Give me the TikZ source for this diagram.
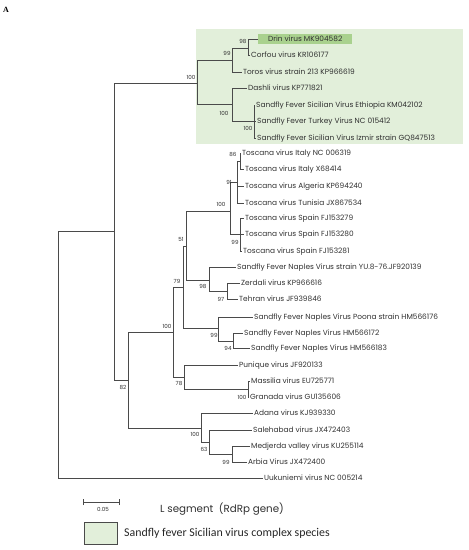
\documentclass[tikz,border=0pt]{standalone}
\usepackage{fontspec}
\setmainfont{Poppins}
\newfontfamily\carlito{Carlito}
\newfontfamily\serifA{Liberation Serif}
\definecolor{edge}{HTML}{4A4A4A}
\definecolor{txt}{HTML}{303030}
\definecolor{sicbg}{HTML}{E2EFDA}
\definecolor{drinbg}{HTML}{A9D18E}
\tikzset{
  leaf/.style={anchor=west, inner xsep=1.5pt, inner ysep=0pt, text height=5.4pt, text depth=1.4pt, font=\fontsize{7.4}{8}\selectfont, text=txt},
  boot/.style={inner sep=0pt, font=\fontsize{5.6}{6}\selectfont, text=txt},
  br/.style={draw=edge, line width=0.75pt},
}
\begin{document}
\begin{tikzpicture}[x=1pt,y=-1pt]
\useasboundingbox (0,0) rectangle (469,550);
% background of Sicilian complex
\node[fill=sicbg, minimum width=267pt, minimum height=115pt, anchor=north west, inner sep=0pt] (sicbox) at (196,29) {};
% panel letter
\node[font=\serifA\bfseries\fontsize{8}{9}\selectfont, text=black] (lettera) at (6,10) {A};
% leaves
\node[leaf, fill=drinbg, inner xsep=7pt, minimum height=10pt, minimum width=94pt] (drin) at (258,39) {Drin virus MK904582};
\node[leaf] (corfou) at (249.5,55) {Corfou virus KR106177};
\node[leaf] (toros) at (241.5,72) {Toros virus strain 213 KP966619};
\node[leaf] (dashli) at (246.5,88) {Dashli virus KP771821};
\node[leaf] (ethiopia) at (254.5,105) {Sandfly Fever Sicilian Virus Ethiopia KM042102};
\node[leaf] (turkey) at (255.5,121) {Sandfly Fever Turkey Virus NC 015412};
\node[leaf] (izmir) at (255.5,138) {Sandfly Fever Sicilian Virus Izmir strain GQ847513};
\node[leaf] (italync) at (240.5,153) {Toscana virus Italy NC 006319};
\node[leaf] (italyx) at (243.5,169) {Toscana virus Italy X68414};
\node[leaf] (algeria) at (243.5,186) {Toscana virus Algeria KP694240};
\node[leaf] (tunisia) at (243.5,203) {Toscana virus Tunisia JX867534};
\node[leaf] (spa) at (243.5,218) {Toscana virus Spain FJ153279};
\node[leaf] (spb) at (243.5,234) {Toscana virus Spain FJ153280};
\node[leaf] (spc) at (241.5,251) {Toscana virus Spain FJ153281};
\node[leaf] (yu) at (235.5,267) {Sandfly Fever Naples Virus strain YU.8-76.JF920139};
\node[leaf] (zerdali) at (239.5,283) {Zerdali virus KP966616};
\node[leaf] (tehran) at (237.5,299) {Tehran virus JF939846};
\node[leaf] (poona) at (252.5,317) {Sandfly Fever Naples Virus Poona strain HM566176};
\node[leaf] (hma) at (242.5,333) {Sandfly Fever Naples Virus HM566172};
\node[leaf] (hmb) at (249.5,348) {Sandfly Fever Naples Virus HM566183};
\node[leaf] (punique) at (237.5,365) {Punique virus JF920133};
\node[leaf] (massilia) at (249.5,381) {Massilia virus EU725771};
\node[leaf] (granada) at (248.5,397) {Granada virus GU135606};
\node[leaf] (adana) at (252.5,413) {Adana virus KJ939330};
\node[leaf] (salehabad) at (251.5,430) {Salehabad virus JX472403};
\node[leaf] (medjerda) at (249.5,446) {Medjerda valley virus KU255114};
\node[leaf] (arbia) at (246.5,462) {Arbia Virus JX472400};
\node[leaf] (uuk) at (262.5,478) {Uukuniemi virus NC 005214};
% internal nodes
\coordinate (root) at (58,354.5);
\coordinate (n1) at (114,231);
\coordinate (sic) at (197,83);
\coordinate (a99) at (232,60);
\coordinate (a98) at (248,48);
\coordinate (dash) at (232,104);
\coordinate (ss) at (254,121);
\coordinate (n82) at (128,380);
\coordinate (n100) at (173,332);
\coordinate (n79) at (183,287);
\coordinate (n51) at (186,246);
\coordinate (tosc) at (230,211);
\coordinate (n91) at (237,182);
\coordinate (n86) at (240,161);
\coordinate (spain) at (240,234);
\coordinate (n98) at (209,280);
\coordinate (n97) at (227,291);
\coordinate (p99) at (218,328);
\coordinate (n94) at (233,341);
\coordinate (n78) at (184,377);
\coordinate (n100c) at (248,389);
\coordinate (n100b) at (201,428);
\coordinate (n63) at (209,442);
\coordinate (n99b) at (232,454);
% branches
\draw[br] (root) |- (n1); \draw[br] (root) |- (uuk.west);
\draw[br] (n1) |- (sic); \draw[br] (n1) |- (n82);
\draw[br] (sic) |- (a99); \draw[br] (sic) |- (dash);
\draw[br] (a99) |- (a98); \draw[br] (a99) |- (toros.west);
\draw[br] (a98) |- (drin.west); \draw[br] (a98) |- (corfou.west);
\draw[br] (dash) |- (dashli.west); \draw[br] (dash) |- (ss);
\draw[br] (ss) |- (ethiopia.west); \draw[br] (ss) |- (turkey.west); \draw[br] (ss) |- (izmir.west);
\draw[br] (n82) |- (n100); \draw[br] (n82) |- (n100b);
\draw[br] (n100) |- (n79); \draw[br] (n100) |- (n78);
\draw[br] (n79) |- (n51); \draw[br] (n79) |- (p99);
\draw[br] (n51) |- (tosc); \draw[br] (n51) |- (n98);
\draw[br] (tosc) |- (n91); \draw[br] (tosc) |- (spain);
\draw[br] (n91) |- (n86); \draw[br] (n91) |- (algeria.west); \draw[br] (n91) |- (tunisia.west);
\draw[br] (n86) |- (italync.west); \draw[br] (n86) |- (italyx.west);
\draw[br] (spain) |- (spa.west); \draw[br] (spain) |- (spb.west); \draw[br] (spain) |- (spc.west);
\draw[br] (n98) |- (yu.west); \draw[br] (n98) |- (n97);
\draw[br] (n97) |- (zerdali.west); \draw[br] (n97) |- (tehran.west);
\draw[br] (p99) |- (poona.west); \draw[br] (p99) |- (n94);
\draw[br] (n94) |- (hma.west); \draw[br] (n94) |- (hmb.west);
\draw[br] (n78) |- (punique.west); \draw[br] (n78) |- (n100c);
\draw[br] (n100c) |- (massilia.west); \draw[br] (n100c) |- (granada.west);
\draw[br] (n100b) |- (adana.west); \draw[br] (n100b) |- (n63);
\draw[br] (n63) |- (salehabad.west); \draw[br] (n63) |- (n99b);
\draw[br] (n99b) |- (medjerda.west); \draw[br] (n99b) |- (arbia.west);
% bootstrap values
\node[boot] (b1) at (243,41) {98};
\node[boot] (b2) at (227,53) {99};
\node[boot] (b3) at (191,77) {100};
\node[boot] (b4) at (224,113) {100};
\node[boot] (b5) at (248,128) {100};
\node[boot] (b6) at (233,154) {86};
\node[boot] (b7) at (229,182) {91};
\node[boot] (b8) at (221,204) {100};
\node[boot] (b9) at (235,242) {99};
\node[boot] (b10) at (181,239) {51};
\node[boot] (b11) at (203,286) {98};
\node[boot] (b12) at (221,299) {97};
\node[boot] (b13) at (177,281) {79};
\node[boot] (b14) at (214,335) {99};
\node[boot] (b15) at (228,348) {94};
\node[boot] (b16) at (167,326) {100};
\node[boot] (b17) at (179,383) {78};
\node[boot] (b18) at (242,397) {100};
\node[boot] (b19) at (195,434) {100};
\node[boot] (b20) at (204,449) {63};
\node[boot] (b21) at (226,462) {99};
\node[boot] (b22) at (123,387) {82};
% scale bar
\coordinate (sbl) at (83,502);
\coordinate (sbr) at (119,502);
\draw[br, line width=0.6pt] (sbl) -- (sbr);
\draw[br, line width=0.6pt] ([yshift=-3pt]sbl) -- ([yshift=3pt]sbl);
\draw[br, line width=0.6pt] ([yshift=-3pt]sbr) -- ([yshift=3pt]sbr);
\node[boot] (sblab) at (103,509.5) {0.05};
\node[anchor=west, inner sep=0pt, font=\fontsize{10.3}{12}\selectfont, text=txt] (segtitle) at (160,509) {L segment\ \ (RdRp gene)};
% legend
\node[draw=edge, line width=0.8pt, fill=sicbg, minimum width=33pt, minimum height=22pt, anchor=north west, inner sep=0pt] (legbox) at (84,522) {};
\node[anchor=west, inner sep=0pt, font=\carlito\fontsize{11.9}{14}\selectfont, text=black!85] (legtxt) at (124,533) {Sandfly fever Sicilian virus complex species};
\end{tikzpicture}
\end{document}
